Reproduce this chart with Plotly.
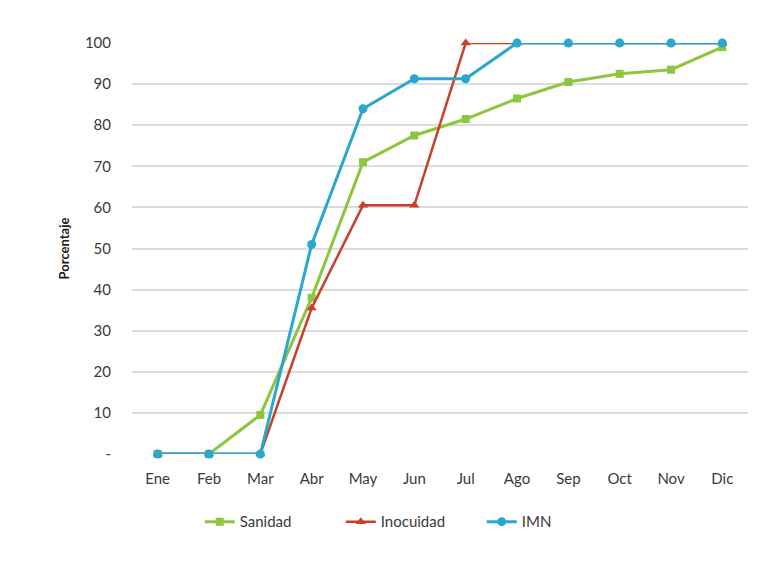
import plotly.graph_objects as go

# months and percentages
months = ['Ene', 'Feb', 'Mar', 'Abr', 'May', 'Jun', 'Jul', 'Ago', 'Sep', 'Oct', 'Nov', 'Dic']
sanidad = [0, 0, 9.5, 38, 71, 77.5, 81.5, 86.5, 90.5, 92.5, 93.5, 99]
inocuidad = [0, 0, 0, 35.5, 60.5, 60.5, 100, 100, 100, 100, 100, 100]
imn = [0, 0, 0, 51, 84, 91.3, 91.3, 100, 100, 100, 100, 100]

y_ticks = [0, 10, 20, 30, 40, 50, 60, 70, 80, 90, 100]
y_labels = ['-', '10', '20', '30', '40', '50', '60', '70', '80', '90', '100']

fig = go.Figure()
fig.add_trace(go.Scatter(x=months, y=sanidad, name='Sanidad', mode='lines+markers',
                         line=dict(color='#8DC63F', width=3),
                         marker=dict(symbol='square', size=8, color='#8DC63F'),
                         cliponaxis=False))
fig.add_trace(go.Scatter(x=months, y=inocuidad, name='Inocuidad', mode='lines+markers',
                         line=dict(color='#C8412B', width=2.5),
                         marker=dict(symbol='triangle-up', size=9, color='#C8412B'),
                         cliponaxis=False))
fig.add_trace(go.Scatter(x=months, y=imn, name='IMN', mode='lines+markers',
                         line=dict(color='#28A8CF', width=3),
                         marker=dict(symbol='circle', size=9, color='#28A8CF'),
                         cliponaxis=False))

# page body adds an 8px margin, so the figure is a bit smaller and shifted
fig.update_layout(
    width=758, height=556,
    margin=dict(l=124, r=18, t=35, b=110, autoexpand=False),
    paper_bgcolor='white', plot_bgcolor='white',
    font=dict(family='Lato, Open Sans, sans-serif', size=14, color='#3A3A3A'),
    legend=dict(orientation='h', x=0.11, xanchor='left', y=-0.125, yanchor='top',
                font=dict(size=15), entrywidth=96, traceorder='normal'),
    showlegend=True,
)
fig.update_xaxes(range=[-0.5, 11.5], showgrid=False, showline=False, ticks='',
                 ticklabelstandoff=14, tickfont=dict(size=15), automargin=False)
fig.update_yaxes(range=[0, 100], tickvals=y_ticks, ticktext=y_labels, automargin=False,
                 showgrid=True, gridcolor='#DCDCDC', gridwidth=1.5, zeroline=False,
                 ticks='', ticklabelstandoff=20, tickfont=dict(size=15),
                 title=dict(text='<b>Porcentaje</b>', font=dict(size=13, color='#202020'), standoff=12))

fig.write_html("out.html")
